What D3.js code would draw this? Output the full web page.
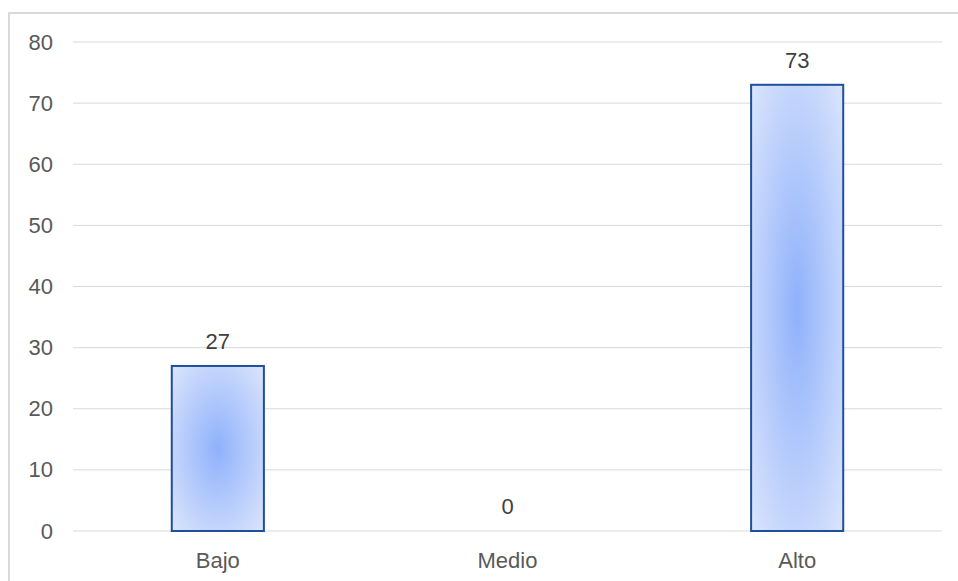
<!DOCTYPE html>
<html>
<head>
<meta charset="utf-8">
<script src="https://cdn.jsdelivr.net/npm/d3@7"></script>
<style>
  body { margin: 0; background: #fff; }
  svg { display: block; }
</style>
</head>
<body>
<svg width="958" height="581" id="mainsvg"></svg>
<script>
  // data
  const categories = ['Bajo', 'Medio', 'Alto'];
  const values = [27, 0, 73];
  const yTicks = [0, 10, 20, 30, 40, 50, 60, 70, 80];

  const svg = d3.select('#mainsvg');
  const margin = { top: 42, left: 73 };
  const innerWidth = 942 - margin.left;
  const innerHeight = 531 - margin.top;
  const font = 'Liberation Sans, Arial, sans-serif';

  // chart frame (runs off the right and bottom edge like the reference)
  svg.append('path')
    .attr('d', 'M9,581 V13 H958')
    .attr('fill', 'none').attr('stroke', '#d9d9d9').attr('stroke-width', 2);

  const defs = svg.append('defs');
  const grad = defs.append('radialGradient').attr('id', 'barGrad')
    .attr('cx', '50%').attr('cy', '50%').attr('r', '70%');
  grad.append('stop').attr('offset', '0%').attr('stop-color', '#8fb1fb');
  grad.append('stop').attr('offset', '100%').attr('stop-color', '#dbe5fc');

  const g = svg.append('g').attr('transform', `translate(${margin.left},${margin.top})`);

  const x = d3.scaleBand().domain(categories).range([0, innerWidth]).padding(0);
  const y = d3.scaleLinear().domain([0, 80]).range([innerHeight, 0]);
  const barW = x.bandwidth() * 0.318;

  // grid lines
  g.selectAll('.grid').data(yTicks).enter().append('line')
    .attr('x1', 0).attr('x2', innerWidth)
    .attr('y1', d => y(d)).attr('y2', d => y(d))
    .attr('stroke', '#d9d9d9').attr('stroke-width', 1);

  // y axis
  const yAxis = d3.axisLeft(y).tickValues(yTicks).tickSize(0).tickPadding(20);
  const yg = g.append('g').call(yAxis);
  yg.select('.domain').remove();
  yg.selectAll('text').attr('fill', '#595959').attr('font-size', 22)
    .attr('font-family', font);

  // x axis
  const xAxis = d3.axisBottom(x).tickSize(0).tickPadding(21);
  const xg = g.append('g').attr('transform', `translate(0,${innerHeight})`).call(xAxis);
  xg.select('.domain').remove();
  xg.selectAll('text').attr('fill', '#595959').attr('font-size', 22)
    .attr('font-family', font);

  // bars
  const data = categories.map((c, i) => ({ cat: c, val: values[i] }));
  g.selectAll('.bar').data(data.filter(d => d.val > 0)).enter().append('rect')
    .attr('class', 'bar')
    .attr('x', d => x(d.cat) + x.bandwidth() / 2 - barW / 2)
    .attr('y', d => y(d.val))
    .attr('width', barW)
    .attr('height', d => innerHeight - y(d.val))
    .attr('fill', 'url(#barGrad)')
    .attr('stroke', '#1f4e9c').attr('stroke-width', 2);

  // value labels
  g.selectAll('.lbl').data(data).enter().append('text')
    .attr('x', d => x(d.cat) + x.bandwidth() / 2)
    .attr('y', d => y(d.val) - 17)
    .attr('text-anchor', 'middle')
    .attr('fill', '#404040').attr('font-size', 22)
    .attr('font-family', font)
    .text(d => d.val);
</script>
</body>
</html>
